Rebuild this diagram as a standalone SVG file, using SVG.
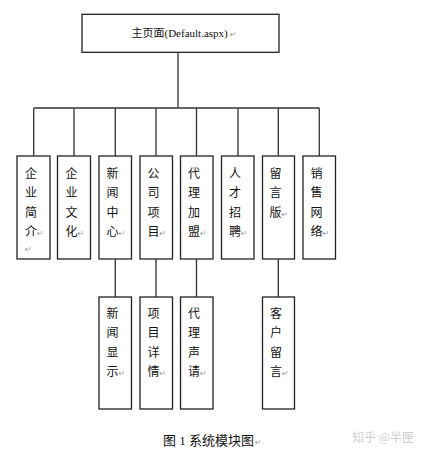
<svg xmlns="http://www.w3.org/2000/svg" width="429" height="456" viewBox="0 0 429 456">
<style>
.box{fill:#fff;stroke:#222;stroke-width:1.3}
.ln{fill:none;stroke:#333;stroke-width:1.3}
.t{font-family:"Noto Sans CJK SC","Noto Sans CJK JP",sans-serif;font-size:12px;fill:#111;text-anchor:middle}
.r{font-family:"DejaVu Sans",sans-serif;font-size:8px;fill:#999}
.top{font-family:"Liberation Serif","Noto Sans CJK SC",serif;font-size:11px;fill:#111}
.cap{font-family:"Liberation Serif","Noto Sans CJK SC",serif;font-size:13px;fill:#111}
.wm{font-family:"Noto Sans CJK SC",sans-serif;font-size:12px;fill:#cfcfcf}
</style>
<rect width="429" height="456" fill="#fff"/>
<g id="connectors">
<path class="ln" d="M178 52V108M33.7 108H319.3M33.7 108V156M74 108V156M115.3 108V156M156 108V156M196.5 108V156M238 108V156M278.3 108V156M319.3 108V156"/>
<path class="ln" d="M115.3 259V297M156 259V297M196.5 259V297M278.3 259V297"/>
</g>
<g id="main">
<rect class="box" x="82" y="14.3" width="197" height="38"/>
<text class="top" x="131.5" y="37">主页面(Default.aspx)</text>
<text class="r" x="230" y="37">↵</text>
</g>
<g id="n1">
<rect class="box" x="17" y="156" width="33" height="103"/>
<text class="t" x="31" y="177.5">企</text><text class="t" x="31" y="197">业</text><text class="t" x="31" y="216.5">简</text><text class="t" x="31" y="236">介</text>
<text class="r" x="37" y="236">↵</text><text class="r" x="25" y="252">↵</text>
</g>
<g id="n2">
<rect class="box" x="57.5" y="156" width="33" height="103"/>
<text class="t" x="71.5" y="177.5">企</text><text class="t" x="71.5" y="197">业</text><text class="t" x="71.5" y="216.5">文</text><text class="t" x="71.5" y="236">化</text>
<text class="r" x="77.5" y="236">↵</text>
</g>
<g id="n3">
<rect class="box" x="99" y="156" width="32.5" height="103"/>
<text class="t" x="112.5" y="177.5">新</text><text class="t" x="112.5" y="197">闻</text><text class="t" x="112.5" y="216.5">中</text><text class="t" x="112.5" y="236">心</text>
<text class="r" x="118.5" y="236">↵</text>
</g>
<g id="n4">
<rect class="box" x="140" y="156" width="32.5" height="103"/>
<text class="t" x="153.5" y="177.5">公</text><text class="t" x="153.5" y="197">司</text><text class="t" x="153.5" y="216.5">项</text><text class="t" x="153.5" y="236">目</text>
<text class="r" x="159.5" y="236">↵</text>
</g>
<g id="n5">
<rect class="box" x="180.5" y="156" width="32.5" height="103"/>
<text class="t" x="194" y="177.5">代</text><text class="t" x="194" y="197">理</text><text class="t" x="194" y="216.5">加</text><text class="t" x="194" y="236">盟</text>
<text class="r" x="200" y="236">↵</text>
</g>
<g id="n6">
<rect class="box" x="221.5" y="156" width="32.5" height="103"/>
<text class="t" x="235" y="177.5">人</text><text class="t" x="235" y="197">才</text><text class="t" x="235" y="216.5">招</text><text class="t" x="235" y="236">聘</text>
<text class="r" x="241" y="236">↵</text>
</g>
<g id="n7">
<rect class="box" x="262.5" y="156" width="32" height="103"/>
<text class="t" x="275.5" y="177.5">留</text><text class="t" x="275.5" y="197">言</text><text class="t" x="275.5" y="216.5">版</text>
<text class="r" x="281.5" y="216.5">↵</text>
</g>
<g id="n8">
<rect class="box" x="303" y="156" width="32.5" height="103"/>
<text class="t" x="316.5" y="177.5">销</text><text class="t" x="316.5" y="197">售</text><text class="t" x="316.5" y="216.5">网</text><text class="t" x="316.5" y="236">络</text>
<text class="r" x="322.5" y="236">↵</text>
</g>
<g id="n9">
<rect class="box" x="99" y="297" width="32.5" height="112"/>
<text class="t" x="112.5" y="317.5">新</text><text class="t" x="112.5" y="337">闻</text><text class="t" x="112.5" y="356.5">显</text><text class="t" x="112.5" y="376">示</text>
<text class="r" x="118.5" y="376">↵</text>
</g>
<g id="n10">
<rect class="box" x="140" y="297" width="32.5" height="112"/>
<text class="t" x="153.5" y="317.5">项</text><text class="t" x="153.5" y="337">目</text><text class="t" x="153.5" y="356.5">详</text><text class="t" x="153.5" y="376">情</text>
<text class="r" x="159.5" y="376">↵</text>
</g>
<g id="n11">
<rect class="box" x="180.5" y="297" width="32.5" height="112"/>
<text class="t" x="194" y="317.5">代</text><text class="t" x="194" y="337">理</text><text class="t" x="194" y="356.5">声</text><text class="t" x="194" y="376">请</text>
<text class="r" x="200" y="376">↵</text>
</g>
<g id="n12">
<rect class="box" x="262.5" y="297" width="32" height="112"/>
<text class="t" x="276" y="317.5">客</text><text class="t" x="276" y="337">户</text><text class="t" x="276" y="356.5">留</text><text class="t" x="276" y="376">言</text>
<text class="r" x="282" y="376">↵</text>
</g>
<g id="caption">
<text class="cap" x="163" y="445">图 1 系统模块图</text>
<text class="r" x="255" y="445">↵</text>
<text class="wm" x="352" y="442">知乎 @半匣</text>
</g>
</svg>
